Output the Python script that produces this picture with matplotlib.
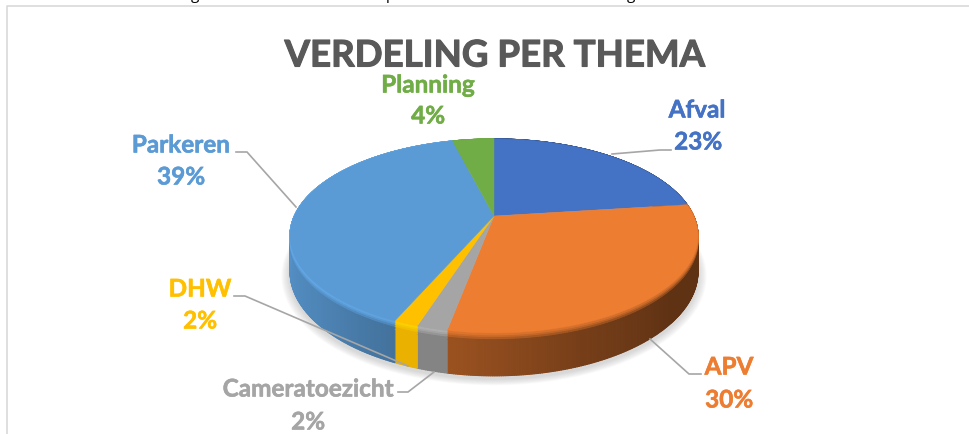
import numpy as np
import matplotlib
matplotlib.use("Agg")
import matplotlib.pyplot as plt
import matplotlib.patheffects as pe
from matplotlib.collections import PolyCollection
from matplotlib.colors import to_rgb
from matplotlib.patches import Polygon

# --- Data ---
themes = ["Afval", "APV", "Cameratoezicht", "DHW", "Parkeren", "Planning"]
shares = [23, 30, 2, 1.6, 39.4, 4]
colors = ["#4472C4", "#ED7D31", "#A5A5A5", "#FFC000", "#5B9BD5", "#70AD47"]

# --- Pie geometry (pixels) ---
cx, cy = 494, 217
rx, ry, k = 199.6, 92.9, 0.206
wall = 34


def project(theta, scale=1.0):
    u = np.sin(theta) * scale
    v = np.cos(theta) * scale
    d = 1 + k * v
    return cx + rx * u / d, cy - ry * v / d, wall / d


def shade(deg):
    return np.interp(deg, [0, 90, 130, 160, 190, 205, 230, 270, 360],
                     [0.4, 0.4, 0.4, 0.5, 0.65, 0.74, 0.86, 0.95, 0.95])


plt.rcParams['font.family'] = ['Lato', 'DejaVu Sans']
fig = plt.figure(figsize=(9.7, 4.35), dpi=100)
ax = fig.add_axes([0, 0, 1, 1])
ax.set_xlim(0, 970)
ax.set_ylim(435, 0)
ax.axis('off')

# --- Frame of the pasted picture ---
ax.plot([7, 7, 970], [435, 7, 7], color="#D9D9D9", lw=1.2, zorder=1)
for ch, x in zip("gpg", [195, 390, 631]):
    ax.text(x, -1, ch, fontsize=11, color="black", ha='center', va='baseline',
            family='Open Sans', clip_on=False)

# --- Soft shadow below the pie ---
t = np.radians(np.arange(0, 360, 2))
for grow in range(1, 10):
    px, py, off = project(t, 1 + grow * 0.0045)
    ax.add_patch(Polygon(np.c_[px, py + off + 3], closed=True, fc="#808080",
                         ec='none', alpha=0.035, zorder=1.5))

# --- Side wall and top ---
bounds = np.cumsum([0] + shares) / sum(shares) * 360
layers = [1.0, 0.2, 0.13, 0.08, 0.04]
for n, s1 in enumerate(layers):
    quads, quad_cols = [], []
    for start, end, col in zip(bounds[:-1], bounds[1:], colors):
        base = np.array(to_rgb(col))
        angles = np.linspace(start, end, max(int(end - start) * 2, 4) + 1)
        bright = col in ("#5B9BD5", "#FFC000", "#A5A5A5")
        for a0, a1 in zip(angles[:-1], angles[1:]):
            x0, y0, o0 = project(np.radians(a0))
            x1, y1, o1 = project(np.radians(a1))
            f = shade((a0 + a1) / 2)
            if col == "#FFC000":
                f = 0.92
            elif col == "#A5A5A5":
                f = 0.8
            side = base * f
            # blue, yellow and grey catch the light on the bevel, the rest blurs dark
            rim = np.minimum(base * 1.12, 1) if bright else base
            m = min(s1 / 0.2, 1)
            quads.append([(x0, y0), (x1, y1), (x1, y1 + o1 * s1), (x0, y0 + o0 * s1)])
            quad_cols.append(rim * (1 - m) + side * m)
    ax.add_collection(PolyCollection(quads, facecolors=quad_cols, edgecolors=quad_cols,
                                     linewidths=0.8, zorder=2 + n * 0.1))

for start, end, col in zip(bounds[:-1], bounds[1:], colors):
    th = np.radians(np.linspace(start, end, 80))
    px, py, _ = project(th)
    ax.add_patch(Polygon(np.r_[[[cx, cy]], np.c_[px, py]], closed=True, fc=col,
                         ec=col, lw=0.3, zorder=3))

# --- Leader lines ---
leaders = [
    ([612, 660, 671], [155, 151, 151]),
    ([650, 689, 701], [340, 375, 375]),
    ([434, 408, 398], [373, 393, 393]),
    ([234, 245, 408], [297, 297, 367]),
    ([236, 247, 296], [153, 153, 208]),
]
for lx, ly in leaders:
    ax.plot(lx, ly, color="#A6A6A6", lw=1.2, zorder=4, solid_joinstyle='miter')

# --- Labels ---
label_pos = [(697, 111, 698, 143), (729, 368, 729, 401), (308, 390, 308, 423),
             (200, 290, 200, 322), (181, 146, 181, 178), (428, 86, 428, 117)]
thick = [pe.withStroke(linewidth=0.4, foreground=c) for c in colors]
for name, share, col, (x1, y1, x2, y2), fx in zip(themes, shares, colors, label_pos, thick):
    ax.text(x1, y1, name, color=col, fontsize=17.5, fontweight='bold',
            ha='center', va='center', zorder=5, path_effects=[fx])
    ax.text(x2, y2, f"{share:.0f}%", color=col, fontsize=17.5, fontweight='bold',
            ha='center', va='center', zorder=5, path_effects=[fx])

ax.text(495, 57, "VERDELING PER THEMA", color="#595959", fontsize=26.4,
        fontweight='bold', ha='center', va='center', zorder=5,
        path_effects=[pe.withStroke(linewidth=0.8, foreground="#595959")])

fig.savefig("out.png", dpi=100)
